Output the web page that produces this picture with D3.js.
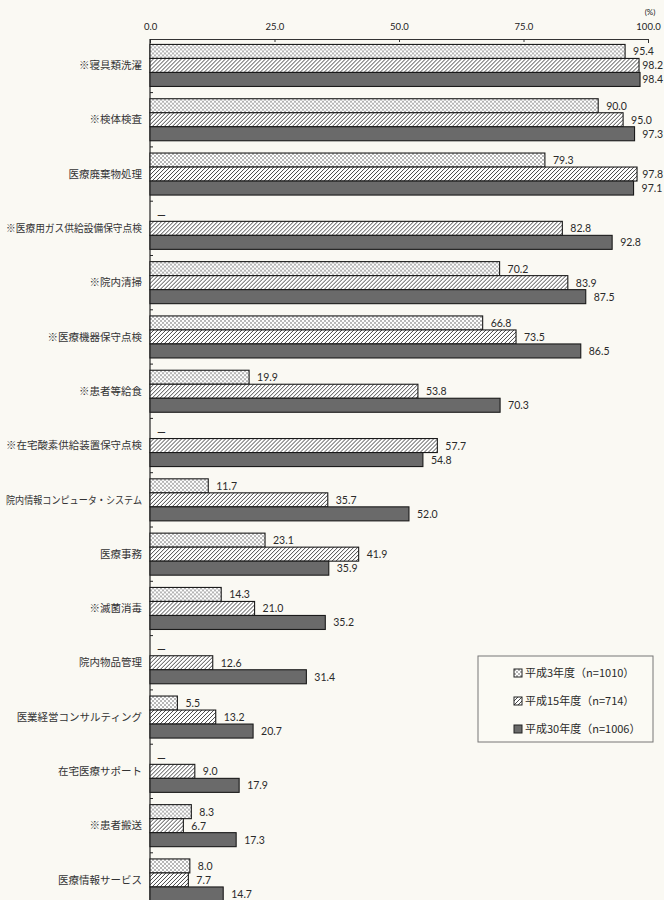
<!DOCTYPE html>
<html>
<head>
<meta charset="utf-8">
<script src="https://cdn.jsdelivr.net/npm/d3@7"></script>
<style>
  body { margin: 0; background: #faf9f3; }
  svg { display: block; }
</style>
</head>
<body>
<div id="chart"></div>
<script>
// categories top to bottom
const categories = [
  "※寝具類洗濯", "※検体検査", "医療廃棄物処理", "※医療用ガス供給設備保守点検",
  "※院内清掃", "※医療機器保守点検", "※患者等給食", "※在宅酸素供給装置保守点検",
  "院内情報コンピュータ・システム", "医療事務", "※滅菌消毒", "院内物品管理",
  "医業経営コンサルティング", "在宅医療サポート", "※患者搬送", "医療情報サービス"
];
const seriesNames = ["平成3年度（n=1010）", "平成15年度（n=714）", "平成30年度（n=1006）"];
// null = not surveyed ("—")
const h3Values  = [95.4, 90.0, 79.3, null, 70.2, 66.8, 19.9, null, 11.7, 23.1, 14.3, null, 5.5, null, 8.3, 8.0];
const h15Values = [98.2, 95.0, 97.8, 82.8, 83.9, 73.5, 53.8, 57.7, 35.7, 41.9, 21.0, 12.6, 13.2, 9.0, 6.7, 7.7];
const h30Values = [98.4, 97.3, 97.1, 92.8, 87.5, 86.5, 70.3, 54.8, 52.0, 35.9, 35.2, 31.4, 20.7, 17.9, 17.3, 14.7];
const xTicks = [0, 25, 50, 75, 100];

const W = 664, H = 900;
const margin = { top: 39, left: 150 };
const numFont = "Lato, 'Noto Sans', sans-serif";
const jpFont = "'Noto Sans CJK JP', sans-serif";

const svg = d3.select("#chart").append("svg")
  .attr("width", W)
  .attr("height", H);

svg.append("rect").attr("width", W).attr("height", H).attr("fill", "#faf9f3");

// fill patterns
const defs = svg.append("defs");
const dots = defs.append("pattern")
  .attr("id", "dots").attr("patternUnits", "userSpaceOnUse")
  .attr("width", 4).attr("height", 4);
dots.append("rect").attr("width", 4).attr("height", 4).attr("fill", "#fff");
dots.append("circle").attr("cx", 1).attr("cy", 1).attr("r", 0.7).attr("fill", "#333");
dots.append("circle").attr("cx", 3).attr("cy", 3).attr("r", 0.7).attr("fill", "#333");

const hatch = defs.append("pattern")
  .attr("id", "hatch").attr("patternUnits", "userSpaceOnUse")
  .attr("width", 4).attr("height", 4);
hatch.append("rect").attr("width", 4).attr("height", 4).attr("fill", "#fff");
hatch.append("path")
  .attr("d", "M-1,1 l2,-2 M0,4 l4,-4 M3,5 l2,-2")
  .attr("stroke", "#333").attr("stroke-width", 0.9);

const fills = ["url(#dots)", "url(#hatch)", "#6a6a6a"];

// scales
const x = d3.scaleLinear().domain([0, 100]).range([margin.left, 648]);

const y0 = d3.scaleBand()
  .domain(categories)
  .range([margin.top, 906.4])
  .paddingInner(0.226)
  .paddingOuter(0.1);

const y1 = d3.scaleBand()
  .domain(d3.range(seriesNames.length))
  .range([0, y0.bandwidth()]);

const rows = categories.map((c, i) => ({
  cat: c,
  vals: [h3Values[i], h15Values[i], h30Values[i]]
}));

// top axis
const xAxis = svg.append("g")
  .attr("transform", `translate(0,${margin.top})`)
  .call(d3.axisTop(x)
    .tickValues(xTicks)
    .tickFormat(d3.format(".1f"))
    .tickSizeInner(-3)
    .tickSizeOuter(-4)
    .tickPadding(9));
xAxis.select(".domain").attr("stroke", "#333");
xAxis.selectAll(".tick line").attr("stroke", "#333");
xAxis.selectAll("text")
  .attr("font-family", numFont)
  .attr("font-size", 9.5)
  .attr("fill", "#222");

svg.append("text")
  .attr("x", 650).attr("y", 15)
  .attr("font-family", numFont)
  .attr("font-size", 8)
  .attr("text-anchor", "middle")
  .attr("fill", "#222")
  .text("(%)");

// left axis line with group separators
svg.append("line")
  .attr("x1", x(0)).attr("x2", x(0))
  .attr("y1", margin.top).attr("y2", H)
  .attr("stroke", "#222").attr("stroke-width", 1.2);

const gap = y0.step() - y0.bandwidth();
svg.append("g").selectAll("line")
  .data(categories.slice(1))
  .join("line")
    .attr("x1", x(0)).attr("x2", x(0) + 3)
    .attr("y1", d => y0(d) - gap / 2)
    .attr("y2", d => y0(d) - gap / 2)
    .attr("stroke", "#222");

// category labels (long ones squeezed to fit left margin)
const maxLabel = 136;
svg.append("g").selectAll("text")
  .data(categories)
  .join("text")
    .attr("x", 142)
    .attr("y", d => y0(d) + y0.bandwidth() / 2)
    .attr("dy", "0.35em")
    .attr("text-anchor", "end")
    .attr("font-family", jpFont)
    .attr("font-size", 10.5)
    .attr("fill", "#333")
    .text(d => d)
    .each(function() {
      const len = this.getComputedTextLength();
      if (len > maxLabel) {
        d3.select(this).attr("textLength", maxLabel).attr("lengthAdjust", "spacingAndGlyphs");
      }
    });

// bars
const groups = svg.append("g").selectAll("g")
  .data(rows)
  .join("g")
    .attr("transform", d => `translate(0,${y0(d.cat)})`);

groups.selectAll("rect")
  .data(d => d.vals.map((v, k) => ({ v, k })).filter(d => d.v !== null))
  .join("rect")
    .attr("x", x(0))
    .attr("y", d => y1(d.k))
    .attr("width", d => x(d.v) - x(0))
    .attr("height", y1.bandwidth())
    .attr("fill", d => fills[d.k])
    .attr("stroke", "#1a1a1a")
    .attr("stroke-width", 1.1);

groups.selectAll("text")
  .data(d => d.vals.map((v, k) => ({ v, k })))
  .join("text")
    .attr("x", d => d.v === null ? x(0) + 7 : x(d.v) + 8)
    .attr("y", d => y1(d.k) + y1.bandwidth() / 2)
    .attr("dy", "0.38em")
    .attr("font-family", numFont)
    .attr("font-size", d => d.v === null ? 11 : 10.5)
    .attr("font-weight", d => d.v === null ? "bold" : null)
    .attr("fill", "#2a2a2a")
    .text(d => d.v === null ? "—" : d3.format(".1f")(d.v))
    .each(function() {
      // keep labels near the right edge inside the page
      const len = this.getComputedTextLength();
      const cur = +this.getAttribute("x");
      if (cur + len > W - 1) this.setAttribute("x", W - 1 - len);
    });

// legend
const legend = svg.append("g").attr("transform", "translate(478,656)");
legend.append("rect")
  .attr("width", 175).attr("height", 86)
  .attr("fill", "#fbfaf4")
  .attr("stroke", "#777").attr("stroke-width", 1);

const items = legend.selectAll("g.item")
  .data(seriesNames)
  .join("g")
    .attr("class", "item")
    .attr("transform", (d, i) => `translate(36,${17 + i * 28})`);
items.append("rect")
  .attr("x", 0).attr("y", -4)
  .attr("width", 8).attr("height", 8)
  .attr("fill", (d, i) => fills[i])
  .attr("stroke", "#222").attr("stroke-width", 1);
items.append("text")
  .attr("x", 11)
  .attr("dy", "0.36em")
  .attr("font-family", jpFont)
  .attr("font-size", 11)
  .attr("fill", "#2a2a2a")
  .text(d => d);
</script>
</body>
</html>
